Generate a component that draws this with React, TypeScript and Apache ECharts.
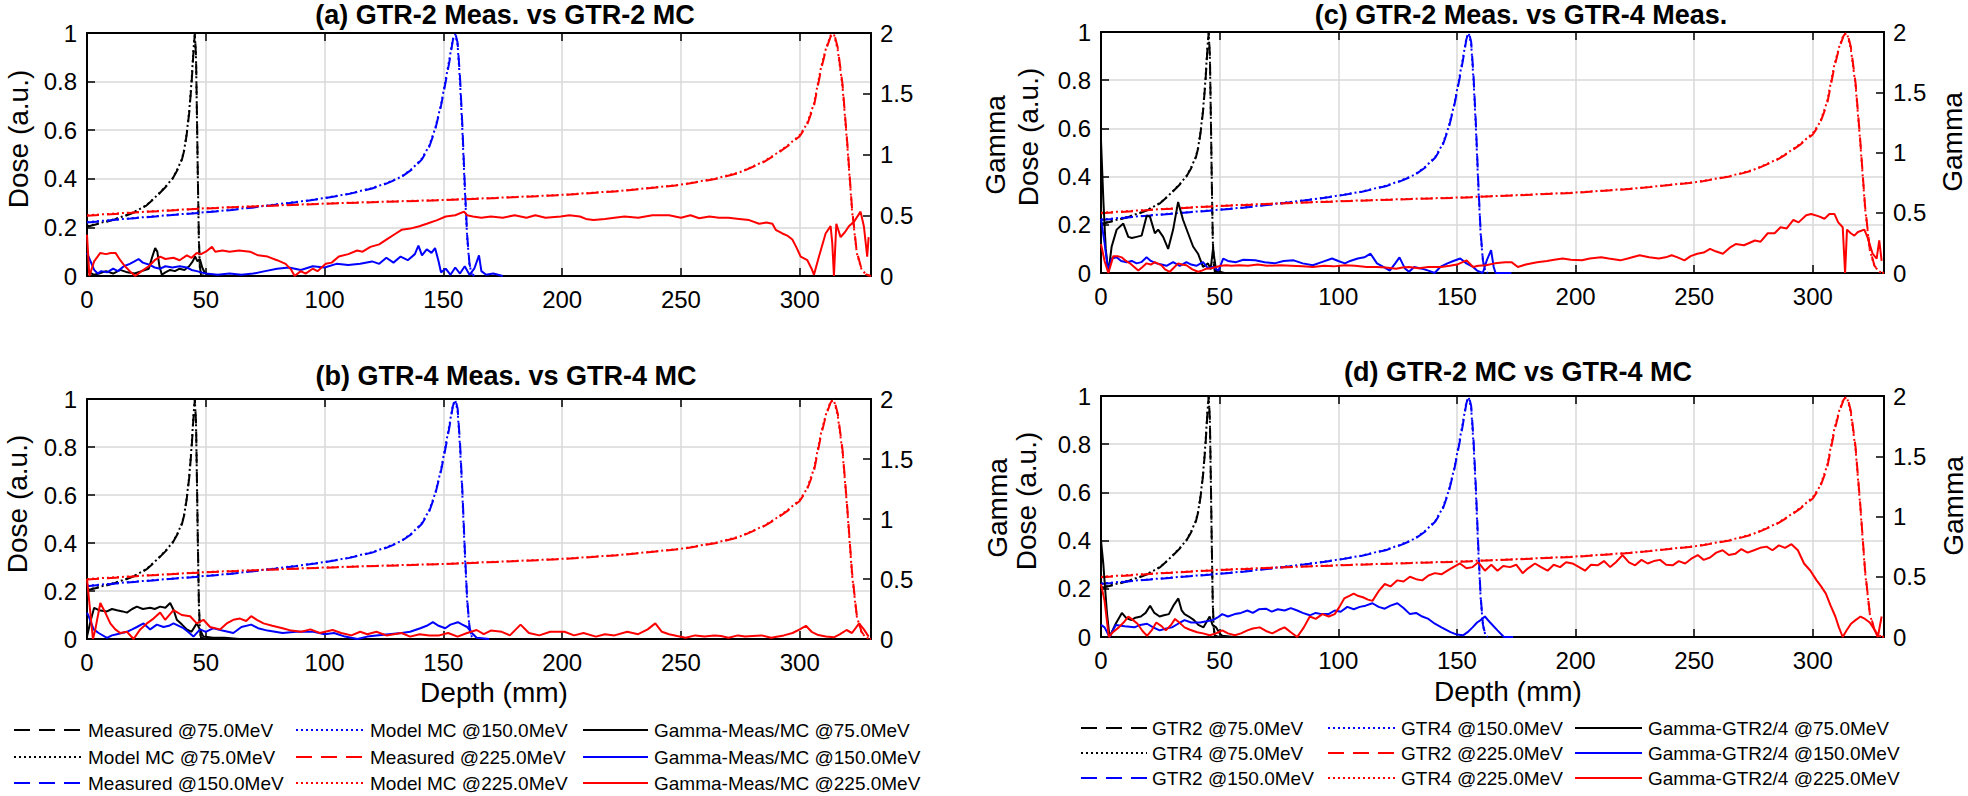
import React, { useEffect, useRef } from "react";
import * as echarts from "echarts";

// ---------- Data ----------
const energies = ["75.0", "150.0", "225.0"];

const depth75 = [0, 5, 10, 15, 20, 25, 29, 33, 36, 38, 40, 41, 42, 43, 44, 44.8, 45.4, 45.9, 46.3, 46.7, 47.1, 47.5, 48, 50];
const doseMeas75 = [0.203, 0.215, 0.228, 0.243, 0.262, 0.29, 0.325, 0.365, 0.4, 0.435, 0.48, 0.52, 0.585, 0.67, 0.79, 0.92, 1.0, 0.9, 0.65, 0.38, 0.15, 0.04, 0.005, 0];
const doseMC75 = [0.205, 0.217, 0.229, 0.245, 0.264, 0.291, 0.327, 0.367, 0.402, 0.438, 0.483, 0.524, 0.59, 0.676, 0.8, 0.93, 0.995, 0.89, 0.64, 0.37, 0.14, 0.035, 0.004, 0];

const depth150 = [0, 10, 20, 30, 40, 50, 60, 70, 80, 90, 100, 110, 120, 126, 132, 137, 141, 144, 146.5, 149, 151, 152.5, 154, 155, 156, 157, 158, 159, 160, 161, 162, 163];
const doseMeas150 = [0.22, 0.229, 0.238, 0.246, 0.254, 0.262, 0.271, 0.282, 0.294, 0.306, 0.32, 0.337, 0.36, 0.38, 0.405, 0.44, 0.48, 0.53, 0.6, 0.7, 0.8, 0.88, 0.97, 1.0, 0.96, 0.82, 0.62, 0.38, 0.17, 0.05, 0.01, 0];
const doseMC150 = [0.222, 0.23, 0.239, 0.247, 0.255, 0.263, 0.272, 0.283, 0.295, 0.307, 0.321, 0.338, 0.362, 0.382, 0.407, 0.443, 0.484, 0.535, 0.605, 0.705, 0.81, 0.89, 0.975, 0.995, 0.95, 0.8, 0.6, 0.36, 0.16, 0.045, 0.008, 0];

const depth225 = [0, 25, 50, 75, 100, 125, 150, 175, 200, 225, 250, 265, 275, 285, 290, 295, 300, 303, 306, 309, 311, 313, 314.4, 316, 318, 320, 322, 324, 326, 328, 330];
const doseMeas225 = [0.248, 0.264, 0.278, 0.288, 0.297, 0.305, 0.312, 0.322, 0.333, 0.35, 0.375, 0.4, 0.426, 0.47, 0.5, 0.535, 0.575, 0.62, 0.7, 0.85, 0.93, 0.985, 1.0, 0.94, 0.79, 0.55, 0.28, 0.1, 0.03, 0.006, 0];
const doseMC225 = [0.25, 0.265, 0.279, 0.289, 0.298, 0.306, 0.313, 0.323, 0.334, 0.351, 0.376, 0.402, 0.428, 0.472, 0.503, 0.538, 0.58, 0.625, 0.71, 0.86, 0.935, 0.99, 0.995, 0.93, 0.78, 0.54, 0.27, 0.095, 0.028, 0.005, 0];

// Gamma curves [depth mm, gamma]
const gammaA75 = [[0,0.06],[1,0.03],[3,0.01],[5,0.02],[8,0.04],[11,0.02],[14,0.05],[17,0.03],[20,0.02],[23,0.04],[26,0.06],[27.5,0.16],[28.7,0.23],[29.6,0.2],[30.5,0.08],[31.5,0.01],[33,0.03],[35,0.05],[37,0.04],[39,0.06],[41,0.05],[43,0.08],[44.5,0.12],[45.5,0.16],[46.5,0.12],[47.5,0.14],[48.5,0.07],[49.5,0.03],[51,0.01],[53,0]];
const gammaA150 = [[0,0.19],[1.5,0.12],[3,0.05],[4.5,0.02],[6,0.04],[8.5,0.03],[11,0.06],[13,0.04],[15.5,0.08],[18,0.1],[20,0.12],[21.7,0.14],[23.5,0.11],[26.6,0.09],[28.5,0.07],[30.8,0.06],[33,0.08],[36,0.07],[39,0.08],[42,0.07],[44,0.05],[46.2,0.04],[48,0.03],[50,0.02],[55,0.01],[60,0.02],[65,0.01],[70,0.02],[75,0.04],[80,0.06],[85,0.07],[90,0.05],[95,0.08],[100,0.07],[105,0.1],[110,0.09],[115,0.1],[120,0.12],[123,0.1],[126,0.15],[129,0.11],[132,0.16],[135,0.13],[138,0.18],[139.5,0.25],[141,0.17],[143,0.22],[145,0.19],[146.5,0.23],[148,0.12],[149,0.03],[151,0.06],[153,0.01],[155,0.07],[157,0.02],[159,0.08],[161,0.01],[163,0.06],[165,0.17],[166,0.04],[168,0.01],[171,0.02],[175,0]];
const gammaA225 = [[0,0.34],[1,0],[3,0.12],[5.6,0.19],[8,0.18],[10,0.19],[12,0.19],[14,0.13],[16,0.08],[18,0.04],[20.3,0],[23,0.04],[26,0.08],[28.5,0.13],[30.8,0.16],[33,0.14],[36.4,0.15],[39,0.13],[42,0.17],[44,0.15],[46.2,0.19],[48,0.18],[50,0.2],[52.6,0.24],[54,0.2],[57,0.21],[60,0.2],[64,0.21],[68.6,0.2],[72,0.17],[76,0.16],[80,0.13],[83.6,0.1],[86,0.05],[87.4,0],[90,0.04],[92,0.02],[95,0.06],[97,0.04],[100.5,0.1],[103,0.11],[106,0.16],[110,0.18],[113.7,0.21],[116,0.2],[119.3,0.24],[123,0.26],[126.8,0.31],[130,0.35],[132.4,0.38],[136,0.39],[139.9,0.41],[143,0.43],[147.4,0.46],[151,0.49],[155,0.5],[158.7,0.53],[160,0.5],[162.4,0.49],[166,0.48],[170,0.49],[175,0.48],[180,0.5],[185,0.48],[188.7,0.5],[193,0.48],[199.4,0.49],[203,0.5],[207.5,0.49],[210,0.47],[213.2,0.46],[218,0.47],[222,0.48],[226.3,0.49],[232,0.48],[238,0.5],[245,0.5],[250,0.48],[254,0.5],[257.7,0.475],[262,0.49],[266,0.48],[270,0.48],[274.5,0.47],[278.7,0.46],[282.9,0.43],[286,0.44],[288.5,0.43],[289.9,0.38],[292.7,0.35],[295,0.33],[296.9,0.3],[298.5,0.24],[300.4,0.16],[303.2,0.13],[305,0.06],[306,0.01],[308.1,0.16],[310.9,0.35],[313,0.41],[313.7,0.27],[314.4,0],[315.4,0.43],[317.2,0.32],[319,0.36],[320.7,0.41],[323,0.45],[325.6,0.53],[327,0.41],[328.4,0.16],[329,0.32]];

const gammaB75 = [[0,0.02],[1.5,0.15],[3,0.26],[5,0.24],[8.4,0.23],[10.5,0.25],[12.6,0.24],[15,0.23],[16.8,0.22],[19,0.25],[21,0.27],[23.5,0.25],[26.6,0.26],[28.5,0.25],[30.8,0.27],[33,0.26],[35,0.3],[36.5,0.24],[37.8,0.16],[40,0.12],[42,0.08],[44,0.06],[46.2,0.13],[47.5,0.08],[49,0.02],[53,0.01],[58,0.01],[64,0]];
const gammaB150 = [[0,0.22],[0.7,0.19],[2.8,0.08],[4.9,0.05],[8.4,0.01],[10.5,0.03],[12.6,0.04],[16.8,0.06],[19,0.08],[21,0.1],[23.8,0.13],[26.6,0.08],[29.4,0.12],[32.2,0.1],[34.5,0.11],[36.4,0.13],[40.6,0.09],[42.5,0.06],[44.8,0.02],[47.6,0.08],[50,0.06],[53.2,0.09],[57,0.07],[61.6,0.05],[65,0.1],[69.1,0.12],[72,0.09],[76,0.07],[82.3,0.05],[88,0.06],[95.4,0.06],[100,0.04],[104,0.05],[108.6,0.02],[113.8,0],[118,0.02],[121.8,0.03],[127,0.04],[132.4,0.05],[136,0.06],[140.3,0.09],[143,0.11],[145.6,0.14],[148,0.11],[150.8,0.09],[153,0.12],[156.1,0.14],[158,0.12],[160,0.1],[162,0.05],[164,0.01],[169.3,0]];
const gammaB225 = [[0,0.5],[1,0.3],[2.5,0],[3.5,0.08],[5.6,0.3],[7.7,0.22],[9.8,0.13],[11.9,0.08],[14,0.05],[16.8,0.06],[19.6,0],[22.4,0.08],[25.2,0.13],[28,0.17],[30.8,0.22],[32.9,0.16],[36.4,0.24],[39.9,0.2],[43.4,0.19],[46.2,0.13],[49,0.16],[51.8,0.1],[56,0.08],[58.8,0.13],[61.6,0.16],[64.4,0.17],[67,0.15],[69.1,0.19],[71.5,0.16],[74.3,0.13],[78,0.11],[82.3,0.09],[86,0.07],[90.2,0.06],[94,0.08],[98,0.05],[103.4,0.075],[107,0.05],[111.3,0.03],[115,0.06],[118,0.04],[121.8,0.06],[126,0.03],[132.4,0.05],[136,0.02],[140,0.04],[144,0.03],[148.2,0.03],[152,0.05],[156,0.02],[160,0.05],[164,0.075],[167,0.04],[170,0.07],[174.6,0.06],[178,0.03],[182.5,0.12],[186,0.05],[190.4,0.03],[195,0.06],[201,0.06],[205,0.03],[209,0.05],[214.2,0.02],[218,0.04],[222,0.03],[227.4,0.06],[232,0.04],[236,0.08],[239.2,0.13],[242,0.06],[245,0.04],[248.4,0.025],[252,0.01],[256,0.03],[260,0.02],[264,0.03],[266.9,0.025],[270,0.01],[274,0.03],[277,0.02],[280.1,0.025],[284,0.03],[288,0.01],[293.3,0.03],[297,0.05],[300,0.08],[302.6,0.11],[305,0.06],[307.8,0.033],[311,0.02],[314.4,0.014],[317,0.04],[319.7,0.075],[322,0.05],[325,0.13],[327,0.08],[329,0.02]];

const gammaC75 = [[0,1.1],[1,0.6],[2,0.2],[3.1,0],[4.5,0.22],[6.6,0.36],[9.4,0.41],[11.5,0.3],[13,0.29],[15,0.3],[17.1,0.31],[19.2,0.47],[20.6,0.47],[22.7,0.33],[24.1,0.36],[26.2,0.3],[28.3,0.2],[30.4,0.36],[32.5,0.59],[34.6,0.44],[36.7,0.33],[38.8,0.22],[40.9,0.16],[43,0.05],[45.1,0.08],[46.2,0.03],[47.2,0.2],[48.6,0.01],[50,0.01],[52,0]];
const gammaC150 = [[0,0.45],[1.5,0.25],[3,0.02],[4.5,0.12],[6.6,0.13],[8.5,0.1],[10.8,0.09],[13,0.1],[15,0.08],[17,0.09],[19.2,0.13],[21,0.1],[23.4,0.08],[25.5,0.07],[27.6,0.06],[30.4,0.09],[33.2,0.06],[36,0.09],[38,0.07],[40.2,0.06],[43,0.09],[45,0.04],[47.2,0.05],[49.5,0.02],[51.5,0.12],[53.5,0.1],[56.9,0.09],[60,0.11],[65,0.105],[69,0.09],[73.1,0.08],[77,0.1],[81.2,0.105],[85,0.08],[89.3,0.064],[93,0.09],[97.4,0.12],[100,0.1],[102.8,0.08],[105,0.1],[108.2,0.12],[111,0.13],[113.6,0.16],[116.3,0.08],[119,0.05],[121.7,0.02],[124,0.08],[125.8,0.13],[128,0.04],[129.8,0.01],[132,0.05],[135.2,0.036],[138,0.02],[140.6,0],[143,0.05],[146,0.08],[148.5,0.1],[151.4,0.12],[154,0.08],[156.8,0.05],[158.5,0.02],[160.9,0],[162.5,0.1],[164.4,0.19],[165.5,0.05],[166.3,0],[170,0],[173,0]];
const gammaC225 = [[0,0.24],[1.5,0.1],[3.1,0],[5.2,0.14],[7,0.14],[8.7,0.13],[10.5,0.1],[12.2,0.08],[14,0.05],[15.7,0.02],[17.5,0.05],[19.2,0.08],[21,0.07],[22.7,0.09],[25.5,0.064],[27,0.03],[29,0.01],[31,0.05],[32.5,0.08],[34,0.07],[36,0.064],[38.5,0.03],[40.9,0.01],[42.5,0.02],[44.4,0.036],[46.5,0.04],[48.6,0.05],[50.5,0.06],[52.8,0.064],[55,0.06],[58.4,0.064],[62,0.06],[66,0.07],[70,0.06],[75.8,0.064],[80,0.06],[85,0.055],[89.3,0.05],[94,0.06],[98,0.055],[102.8,0.064],[107,0.06],[112,0.05],[116.3,0.05],[120,0.045],[124.4,0.036],[127,0.045],[129.8,0.05],[134,0.04],[138,0.05],[143.3,0.05],[147,0.06],[150,0.07],[154.1,0.105],[156.8,0.05],[159,0.06],[162.2,0.064],[166,0.08],[170.3,0.09],[173,0.09],[175.7,0.05],[179,0.07],[183.8,0.09],[188,0.1],[191,0.11],[194.6,0.12],[198,0.11],[202.7,0.105],[206,0.12],[210.8,0.13],[214,0.12],[218.9,0.105],[222,0.12],[227,0.147],[231,0.13],[235.1,0.12],[238,0.13],[240.5,0.147],[243,0.13],[245.9,0.105],[248.5,0.14],[251.3,0.16],[254,0.17],[256.7,0.2],[259,0.18],[262.1,0.16],[265,0.21],[267.5,0.24],[271,0.23],[275.6,0.27],[278,0.26],[281,0.33],[283.9,0.33],[286.4,0.38],[289,0.37],[291.8,0.44],[294,0.42],[297.2,0.48],[299.3,0.49],[302.6,0.47],[304.9,0.45],[307,0.49],[309.1,0.49],[310.7,0.42],[312.6,0.38],[313.6,0],[314.4,0.36],[316,0.33],[317.5,0.31],[319,0.34],[321.7,0.36],[323,0.3],[325.2,0.16],[326.9,0.12],[328,0.27],[329,0.1]];

const gammaD75 = [[0,0.8],[1,0.6],[2.5,0.2],[3.6,0],[6.2,0.11],[8.8,0.2],[10.5,0.16],[12.8,0.14],[14.5,0.16],[16.8,0.17],[18.8,0.2],[20.7,0.26],[22.5,0.2],[24.7,0.17],[26.5,0.18],[28.6,0.19],[30.5,0.26],[32.6,0.32],[34,0.22],[35.2,0.19],[37,0.17],[39.2,0.14],[41,0.1],[43.2,0.08],[45.8,0.17],[47,0.1],[48.5,0.08],[50,0.03],[51.1,0.01],[56,0]];
const gammaD150 = [[0,0.1],[1.5,0.08],[3.6,0],[6.2,0.1],[10,0.09],[14.1,0.08],[16.5,0.1],[19.4,0.11],[22,0.08],[24.7,0.055],[27.5,0.07],[29.9,0.08],[32.5,0.11],[35.2,0.14],[38,0.12],[41.8,0.12],[44.5,0.13],[47.1,0.14],[49,0.16],[51.1,0.19],[53.5,0.17],[56.4,0.19],[59,0.2],[61.7,0.22],[64,0.2],[66.5,0.23],[69.5,0.235],[72,0.21],[74.5,0.23],[77.4,0.22],[80,0.24],[82.7,0.22],[85,0.2],[88,0.18],[90.5,0.2],[93,0.19],[95.9,0.19],[98.5,0.22],[101,0.21],[103.8,0.25],[106.5,0.23],[109.1,0.25],[111.5,0.26],[114.4,0.28],[117,0.25],[119.6,0.235],[122,0.26],[124.9,0.28],[127.5,0.24],[130.2,0.19],[132.8,0.2],[135.4,0.17],[138,0.15],[140.7,0.11],[143.5,0.08],[147.3,0.04],[150,0.02],[152.6,0.014],[154.5,0.04],[156.6,0.08],[158.5,0.12],[160,0.14],[161.8,0.17],[164,0.12],[167.1,0.055],[169.8,0],[173.7,0]];
const gammaD225 = [[0,0.44],[1.5,0.3],[3.3,0],[5,0.04],[7.5,0.08],[9.5,0.12],[11.5,0.17],[13.5,0.14],[15.4,0.11],[17.5,0.05],[19.4,0.01],[21.5,0.06],[23.3,0.12],[25.5,0.09],[27.3,0.055],[29.5,0.1],[31.2,0.15],[33,0.12],[35.2,0.08],[37.5,0.06],[40.5,0.04],[43,0.03],[45.8,0.014],[48.5,0.03],[51.1,0.055],[53.5,0.03],[56.4,0.014],[59,0.03],[61.7,0.055],[64,0.07],[66.9,0.08],[69.5,0.05],[72.2,0.03],[75,0.06],[77.4,0.08],[80,0.04],[82.7,0],[85.5,0.08],[88,0.17],[90.5,0.15],[93.3,0.19],[96,0.17],[98.5,0.19],[100.5,0.25],[102.5,0.32],[104.5,0.34],[106.5,0.36],[108.5,0.34],[110.4,0.33],[112.5,0.31],[114.4,0.3],[117,0.38],[119.6,0.44],[122,0.42],[124.9,0.47],[127.5,0.46],[130.2,0.5],[132.8,0.48],[135.4,0.47],[138,0.51],[140.7,0.53],[143.5,0.52],[146,0.55],[148.5,0.58],[151.3,0.61],[154,0.57],[156.6,0.58],[159,0.62],[161.8,0.55],[164.5,0.6],[167.1,0.55],[169.5,0.59],[172.4,0.58],[175,0.6],[177.7,0.53],[180,0.57],[182.9,0.61],[185.5,0.58],[188.2,0.55],[190.8,0.6],[193.5,0.58],[196,0.62],[198.7,0.61],[201.5,0.58],[204,0.55],[206.5,0.6],[209.3,0.595],[212,0.63],[214.6,0.58],[217,0.62],[219.8,0.68],[222.5,0.62],[225.1,0.595],[227.8,0.64],[230.4,0.61],[233,0.63],[235.6,0.64],[238.2,0.6],[240.9,0.595],[243.5,0.63],[246.2,0.61],[248.8,0.65],[251.5,0.68],[254,0.64],[256.7,0.66],[259.3,0.7],[262,0.72],[264.6,0.68],[267.3,0.69],[269.9,0.73],[272.5,0.7],[275.2,0.72],[277.8,0.74],[280.5,0.75],[283,0.72],[285.7,0.76],[288.3,0.74],[291,0.77],[293.7,0.72],[296.3,0.61],[299,0.55],[301.6,0.47],[303.5,0.42],[305.5,0.36],[307.5,0.26],[309.5,0.17],[311,0.08],[312.6,0],[314.4,0.06],[316.1,0.11],[318,0.14],[320.1,0.17],[322,0.15],[324,0.12],[326,0.06],[327.4,0],[329,0.17]];

const xTicks = [0, 50, 100, 150, 200, 250, 300];

// ---------- Layout / style ----------
const FONT = '"Liberation Sans", Arial, Helvetica, sans-serif';
const COLORS = ["#000000", "#0000ff", "#ff0000"];
const DASH = [12, 8];
const DOT = [2, 3];
const LEGEND_DASH = [16, 9];
const GRID_COLOR = "#d9d9d9";

const leftNames = {
  dashed: (e: string) => `Measured @${e}MeV`,
  dotted: (e: string) => `Model MC @${e}MeV`,
  gamma: (e: string) => `Gamma-Meas/MC @${e}MeV`,
};
const rightNames = {
  dashed: (e: string) => `GTR2 @${e}MeV`,
  dotted: (e: string) => `GTR4 @${e}MeV`,
  gamma: (e: string) => `Gamma-GTR2/4 @${e}MeV`,
};

const panels = [
  { grid: { left: 87, top: 33, width: 784, height: 243 }, title: "(a) GTR-2 Meas. vs GTR-2 MC", titlePos: [505, 15], gamma: [gammaA75, gammaA150, gammaA225], names: leftNames,
    labels: [{ text: "Dose (a.u.)", x: 18, y: 139 }] },
  { grid: { left: 87, top: 399, width: 784, height: 240 }, title: "(b) GTR-4 Meas. vs GTR-4 MC", titlePos: [506, 376], gamma: [gammaB75, gammaB150, gammaB225], names: leftNames,
    labels: [{ text: "Dose (a.u.)", x: 17, y: 504 }] },
  { grid: { left: 1101, top: 32, width: 783, height: 241 }, title: "(c) GTR-2 Meas. vs GTR-4 Meas.", titlePos: [1521, 15], gamma: [gammaC75, gammaC150, gammaC225], names: rightNames,
    labels: [{ text: "Gamma", x: 995, y: 145 }, { text: "Dose (a.u.)", x: 1028, y: 137 }, { text: "Gamma", x: 1952, y: 142 }] },
  { grid: { left: 1101, top: 396, width: 783, height: 241 }, title: "(d) GTR-2 MC vs GTR-4 MC", titlePos: [1518, 372], gamma: [gammaD75, gammaD150, gammaD225], names: rightNames,
    labels: [{ text: "Gamma", x: 997, y: 508 }, { text: "Dose (a.u.)", x: 1026, y: 501 }, { text: "Gamma", x: 1953, y: 506 }] },
];

const legends = [
  { names: leftNames, cols: [[14, 82, 88], [296, 365, 370], [583, 648, 654]], rows: [730, 757, 783] },
  { names: rightNames, cols: [[1081, 1147, 1152], [1328, 1395, 1401], [1575, 1642, 1648]], rows: [728, 753, 778] },
];
const depthLabels = [{ x: 494, y: 692 }, { x: 1508, y: 691 }];

function zip(xs: number[], ys: number[]) {
  return xs.map((x, i) => [x, ys[i]]);
}

function buildOption() {
  const doseSets = [
    { x: depth75, meas: doseMeas75, mc: doseMC75 },
    { x: depth150, meas: doseMeas150, mc: doseMC150 },
    { x: depth225, meas: doseMeas225, mc: doseMC225 },
  ];
  const grids: any[] = [];
  const xAxes: any[] = [];
  const yAxes: any[] = [];
  const series: any[] = [];
  const graphic: any[] = [];

  const axisLine = { show: true, onZero: false, lineStyle: { color: "#000", width: 2 } };
  const tick = { show: true, inside: true, length: 8, lineStyle: { color: "#000", width: 1.5 } };
  const label = { color: "#000", fontFamily: FONT, fontSize: 24 };

  panels.forEach((p, i) => {
    grids.push({ ...p.grid, show: false, containLabel: false });
    xAxes.push({
      gridIndex: i, type: "value", min: 0, max: 330, interval: 50, position: "bottom",
      axisLine, axisTick: tick,
      axisLabel: { ...label, margin: 11, formatter: (v: number) => (xTicks.includes(v) ? String(v) : "") },
      splitLine: { show: true, lineStyle: { color: GRID_COLOR, width: 1.5 } },
    });
    xAxes.push({
      gridIndex: i, type: "value", min: 0, max: 330, interval: 50, position: "top",
      axisLine, axisTick: tick, axisLabel: { show: false }, splitLine: { show: false },
    });
    yAxes.push({
      gridIndex: i, type: "value", min: 0, max: 1, interval: 0.2, position: "left",
      axisLine, axisTick: tick,
      axisLabel: { ...label, margin: 10, formatter: (v: number) => String(Math.round(v * 10) / 10) },
      splitLine: { show: true, lineStyle: { color: GRID_COLOR, width: 1.5 } },
    });
    yAxes.push({
      gridIndex: i, type: "value", min: 0, max: 2, interval: 0.5, position: "right",
      axisLine, axisTick: tick,
      axisLabel: { ...label, margin: 9, formatter: (v: number) => String(Math.round(v * 10) / 10) },
      splitLine: { show: false },
    });

    energies.forEach((e, k) => {
      const d = doseSets[k];
      series.push({
        type: "line", name: p.names.dashed(e), xAxisIndex: 2 * i, yAxisIndex: 2 * i,
        data: zip(d.x, d.meas), showSymbol: false, symbol: "none", z: 2,
        lineStyle: { color: COLORS[k], width: 2, type: DASH }, emphasis: { disabled: true },
      });
      series.push({
        type: "line", name: p.names.dotted(e), xAxisIndex: 2 * i, yAxisIndex: 2 * i,
        data: zip(d.x, d.mc), showSymbol: false, symbol: "none", z: 2,
        lineStyle: { color: COLORS[k], width: 2, type: DOT }, emphasis: { disabled: true },
      });
    });
    energies.forEach((e, k) => {
      series.push({
        type: "line", name: p.names.gamma(e), xAxisIndex: 2 * i, yAxisIndex: 2 * i + 1,
        data: p.gamma[k], showSymbol: false, symbol: "none", z: 3,
        lineStyle: { color: COLORS[k], width: 2, type: "solid" }, emphasis: { disabled: true },
      });
    });

    graphic.push({
      type: "text", x: p.titlePos[0], y: p.titlePos[1],
      style: { text: p.title, fontFamily: FONT, fontSize: 27, fontWeight: "bold", fill: "#000",
        align: "center", verticalAlign: "middle", textAlign: "center", textVerticalAlign: "middle" },
    });
    p.labels.forEach((l) => {
      graphic.push({
        type: "text", x: l.x, y: l.y, rotation: Math.PI / 2,
        style: { text: l.text, fontFamily: FONT, fontSize: 28, fill: "#000",
          align: "center", verticalAlign: "middle", textAlign: "center", textVerticalAlign: "middle" },
      });
    });
  });

  depthLabels.forEach((d) => {
    graphic.push({
      type: "text", x: d.x, y: d.y,
      style: { text: "Depth (mm)", fontFamily: FONT, fontSize: 28, fill: "#000",
        align: "center", verticalAlign: "middle", textAlign: "center", textVerticalAlign: "middle" },
    });
  });

  legends.forEach((lg) => {
    const items: { name: string; color: string; dash: any }[] = [];
    energies.forEach((e, k) => {
      items.push({ name: lg.names.dashed(e), color: COLORS[k], dash: LEGEND_DASH });
      items.push({ name: lg.names.dotted(e), color: COLORS[k], dash: DOT });
    });
    energies.forEach((e, k) => items.push({ name: lg.names.gamma(e), color: COLORS[k], dash: null }));
    items.forEach((it, idx) => {
      const col = lg.cols[Math.floor(idx / 3)];
      const y = lg.rows[idx % 3];
      graphic.push({
        type: "line", shape: { x1: col[0], y1: y, x2: col[1], y2: y },
        style: { stroke: it.color, lineWidth: 2, lineDash: it.dash || undefined },
      });
      graphic.push({
        type: "text", x: col[2], y,
        style: { text: it.name, fontFamily: FONT, fontSize: 19, fill: "#000",
          align: "left", verticalAlign: "middle", textAlign: "left", textVerticalAlign: "middle" },
      });
    });
  });

  return {
    animation: false,
    backgroundColor: "#ffffff",
    grid: grids,
    xAxis: xAxes,
    yAxis: yAxes,
    series,
    graphic,
  };
}

export default function App() {
  const ref = useRef<HTMLDivElement>(null);
  useEffect(() => {
    const chart = echarts.init(ref.current!, null, { renderer: "svg" });
    chart.setOption(buildOption() as any);
    return () => chart.dispose();
  }, []);
  return (
    <div
      ref={ref}
      style={{ position: "fixed", left: 0, top: 0, width: 1968, height: 796, background: "#fff" }}
    />
  );
}
